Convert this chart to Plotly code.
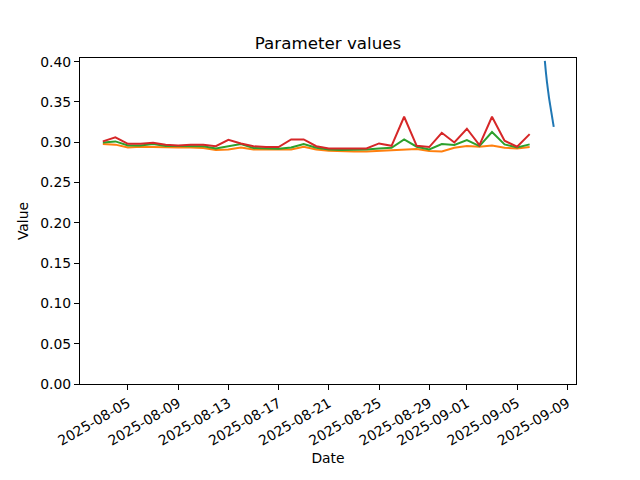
import pandas as pd
import plotly.graph_objects as go

# Daily series (2025-08-03 .. 2025-09-06)
daily_dates = pd.date_range("2025-08-03", "2025-09-06", freq="D")
orange_vals = [0.2977, 0.2970, 0.2935, 0.2944, 0.2940, 0.2935, 0.2935, 0.2935, 0.2927, 0.2903,
               0.2910, 0.2935, 0.2910, 0.2910, 0.2910, 0.2910, 0.2944, 0.2910, 0.2894, 0.2886,
               0.2886, 0.2886, 0.2894, 0.2902, 0.2902, 0.2915, 0.2890, 0.2886, 0.2931, 0.2952,
               0.2944, 0.2960, 0.2931, 0.2923, 0.2940]
green_vals = [0.2997, 0.3010, 0.2960, 0.2960, 0.2977, 0.2952, 0.2952, 0.2952, 0.2950, 0.2923,
              0.2952, 0.2977, 0.2927, 0.2919, 0.2919, 0.2935, 0.2977, 0.2931, 0.2910, 0.2902,
              0.2902, 0.2910, 0.2923, 0.2931, 0.3035, 0.2944, 0.2910, 0.2977, 0.2965, 0.3027,
              0.2952, 0.3126, 0.2973, 0.2935, 0.2973]
red_vals = [0.3010, 0.3060, 0.2980, 0.2980, 0.2993, 0.2970, 0.2960, 0.2970, 0.2970, 0.2950,
            0.3030, 0.2985, 0.2950, 0.2940, 0.2940, 0.3035, 0.3035, 0.2950, 0.2923, 0.2923,
            0.2923, 0.2923, 0.2985, 0.2955, 0.3316, 0.2955, 0.2940, 0.3117, 0.2997, 0.3167,
            0.2965, 0.3316, 0.3018, 0.2944, 0.3100]

# Hourly series on 2025-09-07
blue_times = pd.date_range("2025-09-07 05:00", "2025-09-07 22:00", freq="h")
blue_vals = [0.401, 0.394, 0.387, 0.381, 0.375, 0.370, 0.365, 0.360, 0.355, 0.351,
             0.347, 0.343, 0.339, 0.335, 0.331, 0.327, 0.323, 0.319]

x_tick_vals = ["2025-08-05", "2025-08-09", "2025-08-13", "2025-08-17", "2025-08-21",
               "2025-08-25", "2025-08-29", "2025-09-01", "2025-09-05", "2025-09-09"]
y_tick_vals = [0.00, 0.05, 0.10, 0.15, 0.20, 0.25, 0.30, 0.35, 0.40]

fig = go.Figure()
fig.add_trace(go.Scatter(x=blue_times, y=blue_vals, mode="lines",
                         line=dict(color="#1f77b4", width=2, shape="spline")))
fig.add_trace(go.Scatter(x=daily_dates, y=orange_vals, mode="lines",
                         line=dict(color="#ff7f0e", width=2)))
fig.add_trace(go.Scatter(x=daily_dates, y=green_vals, mode="lines",
                         line=dict(color="#2ca02c", width=2)))
fig.add_trace(go.Scatter(x=daily_dates, y=red_vals, mode="lines",
                         line=dict(color="#d62728", width=2)))

# page body has an 8px margin, so the figure is shifted by 8px
W, H = 632, 472
fig.update_layout(
    width=W, height=H,
    margin=dict(l=72, r=64, t=50, b=96, autoexpand=False),
    paper_bgcolor="white", plot_bgcolor="white",
    showlegend=False,
    font=dict(family="DejaVu Sans", size=13.9, color="black"),
    title=dict(text="Parameter values", x=0.5, xref="paper", y=1 - 35 / H,
               yanchor="middle", font=dict(size=16.7)),
)
fig.update_xaxes(
    range=["2025-08-01 04:20", "2025-09-09 16:35"],
    tickvals=x_tick_vals, ticktext=x_tick_vals, tickangle=-30,
    tickfont=dict(size=13.9),
    ticks="outside", ticklen=5, tickcolor="black",
    showline=True, linecolor="black", linewidth=1, mirror=True,
    showgrid=False, zeroline=False,
    title=dict(text="Date", standoff=5, font=dict(size=13.9)),
    automargin=False,
)
fig.update_yaxes(
    range=[0, 0.4045],
    tickvals=y_tick_vals, ticktext=[f"{v:.2f}" for v in y_tick_vals],
    tickfont=dict(size=13.9),
    ticks="outside", ticklen=5, tickcolor="black",
    showline=True, linecolor="black", linewidth=1, mirror=True,
    showgrid=False, zeroline=False,
    title=dict(text="Value", standoff=8, font=dict(size=13.9)),
    automargin=False,
)

fig.write_html("out.html")
